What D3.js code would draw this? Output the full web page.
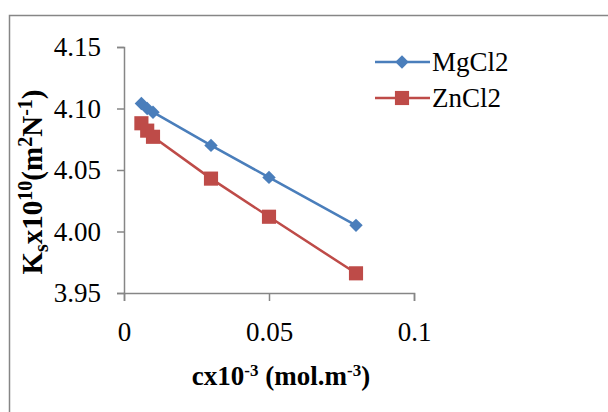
<!DOCTYPE html>
<html lang="en">
<head>
    <meta charset="UTF-8">
    <script src="https://d3js.org/d3.v7.min.js"></script>
    <title>Ks vs c</title>
    <style>
        html, body {
            margin: 0px;
            padding: 0px;
            background-color: #ffffff;
        }
    </style>
</head>
<body>
    <div id="chart"></div>
    <script>
        // data
        let conc = [0.006, 0.008, 0.01, 0.03, 0.05, 0.08];
        let mgcl2 = [4.104, 4.100, 4.097, 4.070, 4.044, 4.005];
        let zncl2 = [4.088, 4.082, 4.077, 4.043, 4.012, 3.966];
        let seriesNames = ['MgCl2', 'ZnCl2'];
        let xTicks = [0, 0.05, 0.1];
        let yTicks = [3.95, 4.00, 4.05, 4.10, 4.15];

        let width = 608;
        let height = 412;
        let margin = { top: 47, left: 124, right: 194, bottom: 119 };
        let serif = '"Liberation Serif"';

        let svg = d3.select('#chart').append('svg')
            .attr('width', width)
            .attr('height', height);

        // outer chart frame
        svg.append('rect')
            .attr('x', 9.5).attr('y', 15.5)
            .attr('width', 620).attr('height', 420)
            .attr('fill', 'none')
            .attr('stroke', '#868686')
            .attr('stroke-width', 1.5);

        let x = d3.scaleLinear().domain([0, 0.1]).range([margin.left, width - margin.right]);
        let y = d3.scaleLinear().domain([3.95, 4.15]).range([height - margin.bottom, margin.top]);

        let xAxis = svg.append('g')
            .attr('transform', `translate(0,${y(3.95)})`)
            .call(d3.axisBottom(x).tickValues(xTicks).tickSize(8).tickPadding(21)
                .tickFormat(d => d === 0 ? '0' : d3.format('')(d)));
        let yAxis = svg.append('g')
            .attr('transform', `translate(${x(0)},0)`)
            .call(d3.axisLeft(y).tickValues(yTicks).tickSize(7).tickPadding(16)
                .tickFormat(d3.format('.2f')));

        [xAxis, yAxis].forEach(a => {
            a.attr('font-size', 27);
            a.select('.domain').attr('stroke', '#868686').attr('stroke-width', 1.5);
            a.selectAll('.tick line').attr('stroke', '#868686').attr('stroke-width', 1.5);
            a.selectAll('.tick text').attr('fill', '#000').style('font-family', serif);
        });

        let series = [
            { name: seriesNames[0], values: mgcl2, color: '#4a7ebb', size: 90, rot: 45 },
            { name: seriesNames[1], values: zncl2, color: '#be4b48', size: 200, rot: 0 }
        ];

        let line = d3.line()
            .x((d, i) => x(conc[i]))
            .y(d => y(d));

        series.forEach((s, si) => {
            svg.append('path')
                .datum(s.values)
                .attr('d', line)
                .attr('fill', 'none')
                .attr('stroke', s.color)
                .attr('stroke-width', 2.5);

            let sym = d3.symbol().type(d3.symbolSquare).size(s.size);
            svg.append('g').selectAll('path')
                .data(s.values)
                .join('path')
                .attr('transform', (d, i) => `translate(${x(conc[i])},${y(d)}) rotate(${s.rot})`)
                .attr('d', sym)
                .attr('fill', s.color);

            // legend
            let ly = 62 + si * 36;
            svg.append('line')
                .attr('x1', 375).attr('x2', 430)
                .attr('y1', ly).attr('y2', ly)
                .attr('stroke', s.color)
                .attr('stroke-width', 2.5);
            svg.append('path')
                .attr('transform', `translate(402,${ly}) rotate(${s.rot})`)
                .attr('d', sym)
                .attr('fill', s.color);
            svg.append('text')
                .attr('x', 432).attr('y', ly + 9)
                .attr('font-size', 27)
                .style('font-family', serif)
                .text(s.name);
        });

        // y axis title
        let yt = svg.append('text')
            .attr('transform', 'translate(42,182) rotate(-90)')
            .attr('text-anchor', 'middle')
            .attr('font-size', 29)
            .attr('font-weight', 'bold')
            .style('font-family', serif);
        yt.append('tspan').text('K');
        yt.append('tspan').attr('font-size', 20).attr('dy', 6).text('s');
        yt.append('tspan').attr('dy', -6).text('x10');
        yt.append('tspan').attr('font-size', 20).attr('dy', -10).text('10');
        yt.append('tspan').attr('dy', 10).text('(m');
        yt.append('tspan').attr('font-size', 20).attr('dy', -10).text('2');
        yt.append('tspan').attr('dy', 10).text('N');
        yt.append('tspan').attr('font-size', 20).attr('dy', -10).text('-1');
        yt.append('tspan').attr('dy', 10).text(')');

        // x axis title
        let xt = svg.append('text')
            .attr('x', 281).attr('y', 385)
            .attr('text-anchor', 'middle')
            .attr('font-size', 27)
            .attr('font-weight', 'bold')
            .style('font-family', serif);
        xt.append('tspan').text('cx10');
        xt.append('tspan').attr('font-size', 17).attr('dy', -9).text('-3');
        xt.append('tspan').attr('dy', 9).text(' (mol.m');
        xt.append('tspan').attr('font-size', 17).attr('dy', -9).text('-3');
        xt.append('tspan').attr('dy', 9).text(')');
    </script>
</body>
</html>
